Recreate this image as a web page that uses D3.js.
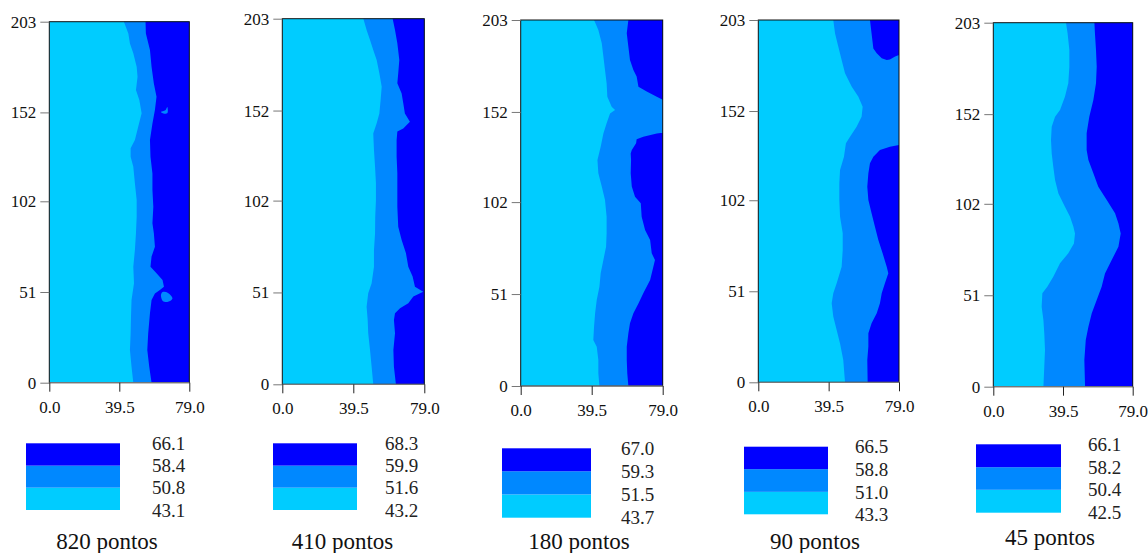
<!DOCTYPE html>
<html>
<head>
<meta charset="utf-8">
<script src="https://cdn.jsdelivr.net/npm/d3@7"></script>
<style>
  body { margin: 0; background: #fff; }
</style>
</head>
<body>
<div id="chart"></div>
<script>
// captions and legend levels (one entry per map)
var captions = ["820 pontos", "410 pontos", "180 pontos", "90 pontos", "45 pontos"];
var legendLevels = [
    [43.1, 50.8, 58.4, 66.1],
    [43.2, 51.6, 59.9, 68.3],
    [43.7, 51.5, 59.3, 67.0],
    [43.3, 51.0, 58.8, 66.5],
    [42.5, 50.4, 58.2, 66.1]
];
var yTicks = [0, 51, 102, 152, 203];
var xTicks = [0, 39.5, 79];

// contour boundaries, [x, y]
// "mid" = edge between first and second band, "dark" = edge between second and third
var p1Mid = [[42.1,203],[44.6,196.4],[45.5,190.8],[47.4,185.2],[49.3,177.7],[49.8,172.1],[48.9,164.6],[50.8,159],[52.1,151.5],[50.2,144],[48.3,136.5],[45.9,131.8],[45.9,127.1],[47.4,121.5],[48.3,112.1],[49.3,102.7],[49.3,93.3],[48.9,84],[48.3,74.6],[47.4,65.2],[47.8,55.9],[46.4,46.5],[46.1,37.1],[45.9,27.7],[45.5,18.4],[46.4,9],[47.4,0]];
var p1Dark = [[54.3,203],[54.5,196.4],[56.8,187.1],[57.7,177.7],[59,168.3],[60.5,160.8],[59.6,153.3],[58.2,145.8],[56.8,136.5],[57.1,127.1],[58.2,117.7],[58.2,108.3],[58.7,99],[58.2,89.6],[59,84],[59.6,76.5],[57.7,70.9],[57.1,65.2],[60.5,61.5],[63.9,57.7],[64.7,54],[62.4,52.1],[59.6,50.2],[57.7,46.5],[56.8,39],[55.8,27.7],[55.3,18.4],[56.4,9],[57.7,0]];
var p1Islands = [
    [[63,49],[64,51],[67,50.5],[69.5,47.5],[67,45.5],[64,46]],
    [[63,152.2],[65.5,153.2],[66.6,155],[66.8,152],[65,151.2]]
];

var p2Mid = [[45.1,203],[46.9,196.7],[48.8,191.2],[50.6,185.6],[52.5,180],[54,172.7],[55.3,165.2],[54.7,157.9],[54,150.4],[52.5,144.9],[50.6,139.3],[51,130.1],[51.6,120.8],[52.1,111.6],[52.1,102.3],[51.7,93.1],[51.6,83.8],[51,74.6],[51,65.3],[49.7,56.1],[47.8,50.5],[46.9,43.1],[47.5,35.7],[47.8,28.3],[48.8,19.1],[49.7,9.8],[50.6,0]];
var p2Dark = [[61.4,203],[62.7,196.7],[64,189.3],[65.1,180],[64.5,172.7],[64,167.1],[66.4,161.5],[67.3,156],[68.2,150.4],[71,145.8],[69.2,144],[67.3,142.1],[64,140.3],[63.6,135.6],[63.6,126.4],[64,117.1],[64,107.9],[64,98.6],[64.5,87.5],[66.4,80.1],[68.8,72.7],[70.1,65.3],[72.5,59.8],[73.8,54.2],[78.4,51.4],[72.9,48.7],[70.1,45],[65.5,42.2],[62.7,39.4],[62.1,35.7],[62.7,28.3],[61.8,19.1],[62.1,9.8],[63.2,0]];

var p3Mid = [[40.8,203],[43.2,197.5],[45.1,190.1],[46,182.7],[46.9,175.3],[47.8,167.9],[48.2,160.5],[50.6,154.9],[52.5,153.1],[49.7,151.2],[47.8,145.7],[46,140.1],[44.5,132.7],[42.7,125.4],[43.2,118],[45.1,110.6],[46.9,103.2],[47.8,93.9],[47.8,84.7],[47.5,77.3],[46,69.9],[44.5,62.5],[43.8,55.1],[42.3,47.7],[41.4,40.3],[40.8,32.9],[40.4,25.5],[42.3,21.8],[43.2,14.4],[43.2,7],[43.8,0]];
var p3Dark = [[59.9,203],[59,195.6],[59.9,188.2],[60.8,180.8],[62.7,175.3],[64.5,171.6],[65.5,166],[70.1,163.3],[75.7,160.5],[79,158.7],[79,140.5],[75.7,140.1],[68.2,138.3],[64.5,136.8],[64.2,134.6],[61.8,130.9],[61.2,129],[61.4,125.4],[61.2,118],[61.8,110.6],[63.6,105],[66.8,101.3],[67.3,93.9],[69.2,86.5],[72,81],[72.9,73.6],[74.7,69.9],[73.8,66.2],[72,58.8],[68.2,51.4],[65.5,45.8],[62.7,40.3],[60.8,34.8],[59.9,29.2],[59,21.8],[59,14.4],[59.3,7],[59.9,0]];

var p4Mid = [[42.1,203],[43.1,195.5],[44.9,188.1],[46.8,180.6],[48.7,173.1],[52.4,165.7],[56.2,160],[58.6,154.4],[58,148.8],[55.2,143.2],[51.5,137.6],[49.2,133.9],[48.1,126.4],[45.9,119],[45.5,111.5],[45.5,102.1],[45.9,92.8],[47.4,83.5],[47.4,74.1],[46.8,64.8],[44,55.5],[42.1,49.9],[41.2,44.3],[42.1,36.8],[44,29.3],[45.9,21.8],[47.7,12.5],[48.7,0]];
var p4DarkTop = [[62.7,203],[63.6,195.5],[64.6,187.1],[66.5,184.3],[69.3,181.5],[72.1,180.6],[73.9,180.9],[76.8,182.5],[79,183.4]];
var p4DarkLow = [[79,133],[73.9,132],[68.3,130.2],[64.6,126.4],[62.7,122.7],[61.8,117.1],[61.2,109.6],[61.8,102.1],[63.6,94.7],[65.5,87.2],[67.4,79.7],[69.8,72.3],[72.1,64.8],[73,61.1],[71.1,55.5],[69.3,49.9],[68.3,44.3],[66.5,38.7],[63.6,33.1],[61.8,27.5],[61.8,20],[61.2,12.5],[61.4,0]];

var p5Mid = [[41.2,203],[42.1,197.1],[43.1,187.8],[43.1,178.5],[42.5,169.2],[40.6,161.7],[37.8,154.3],[35,150.6],[33.1,145],[32.7,137.6],[33.1,130.1],[34,122.7],[35,115.3],[36.9,107.8],[40.6,100.4],[43.5,94.8],[45.4,89.2],[46.3,85.5],[45.7,79.9],[42.5,74.4],[37.8,68.8],[34,61.3],[30.6,55.8],[27.8,52.1],[27.4,44.6],[28.4,37.2],[28.9,29.7],[29.3,20.4],[28.9,11.2],[28.4,0]];
var p5Dark = [[57.3,203],[57.6,197.1],[58.2,187.8],[58.6,178.5],[58.2,169.2],[56.7,159.9],[54.4,150.6],[52.9,141.3],[52.9,132],[53.9,126.4],[56.7,119],[59.5,111.5],[64.3,104.1],[69,96.7],[70.9,91.1],[72.2,85.5],[70.9,78.1],[67.1,70.6],[63.3,63.2],[61.4,55.8],[58.6,48.3],[55.8,40.9],[53.9,33.5],[52.4,26],[51.6,14.9],[52,0]];

var maps = [
    {mid: [p1Mid], dark: [p1Dark], islands: p1Islands},
    {mid: [p2Mid], dark: [p2Dark], islands: []},
    {mid: [p3Mid], dark: [p3Dark], islands: []},
    {mid: [p4Mid], dark: [p4DarkTop, p4DarkLow], islands: []},
    {mid: [p5Mid], dark: [p5Dark], islands: []}
];

// page layout of each panel (pixels)
var frames = [
    {x0: 49.3,  x1: 189.3,  y0: 21.7, y1: 382.7, lx0: 26,  lx1: 120,  ly0: 443.3, ly1: 510,   tx: 152,  cx: 107,   cy: 549},
    {x0: 282.3, x1: 424.3,  y0: 18.7, y1: 384.3, lx0: 273, lx1: 357,  ly0: 443.3, ly1: 510,   tx: 385,  cx: 342.5, cy: 549},
    {x0: 520.7, x1: 662.7,  y0: 20,   y1: 386,   lx0: 502, lx1: 591,  ly0: 448.3, ly1: 517.7, tx: 621,  cx: 579,   cy: 549},
    {x0: 758.3, x1: 899,    y0: 20,   y1: 382.3, lx0: 744, lx1: 828,  ly0: 446.7, ly1: 514.3, tx: 855,  cx: 815,   cy: 549},
    {x0: 993.3, x1: 1132.7, y0: 22.7, y1: 386.7, lx0: 976, lx1: 1061, ly0: 444.3, ly1: 512.7, tx: 1088, cx: 1050,  cy: 545}
];

var bandColors = ["#00ccff", "#0088ff", "#0000ff"];
var serif = "Liberation Serif";

var svg = d3.select("#chart")
    .append("svg")
    .attr("width", 1148)
    .attr("height", 553);

// closes an edge polyline along the right side of the map
function closeRight(pts) {
    var last = pts[pts.length - 1], first = pts[0];
    return pts.concat([[79, last[1]], [79, first[1]]]);
}

maps.forEach(function(m, i) {
    var f = frames[i];
    var x = d3.scaleLinear().domain([0, 79]).range([f.x0, f.x1]);
    var y = d3.scaleLinear().domain([0, 203]).range([f.y1, f.y0]);

    var line = d3.line()
        .x(function(d) { return x(d[0]); })
        .y(function(d) { return y(d[1]); });
    var blob = d3.line()
        .x(function(d) { return x(d[0]); })
        .y(function(d) { return y(d[1]); })
        .curve(d3.curveCardinalClosed);

    var g = svg.append("g").attr("class", "map");

    // first band fills the whole map
    g.append("rect")
        .attr("x", x(0))
        .attr("y", y(203))
        .attr("width", x(79) - x(0))
        .attr("height", y(0) - y(203))
        .attr("fill", bandColors[0]);

    m.mid.forEach(function(pts) {
        g.append("path")
            .attr("d", line(closeRight(pts)) + "Z")
            .attr("fill", bandColors[1]);
    });
    m.dark.forEach(function(pts) {
        g.append("path")
            .attr("d", line(closeRight(pts)) + "Z")
            .attr("fill", bandColors[2]);
    });
    m.islands.forEach(function(pts) {
        g.append("path")
            .attr("d", blob(pts))
            .attr("fill", bandColors[1]);
    });

    // frame
    g.append("rect")
        .attr("x", x(0))
        .attr("y", y(203))
        .attr("width", x(79) - x(0))
        .attr("height", y(0) - y(203))
        .attr("fill", "none")
        .attr("stroke", "#111")
        .attr("stroke-width", 1);
    g.append("line")
        .attr("x1", x(0)).attr("x2", x(79))
        .attr("y1", y(0)).attr("y2", y(0))
        .attr("stroke", "#888");

    // axes
    var yAxis = g.append("g")
        .attr("transform", "translate(" + x(0) + ",0)")
        .call(d3.axisLeft(y).tickValues(yTicks).tickSize(9).tickSizeOuter(0).tickPadding(4).tickFormat(d3.format("d")));
    var xAxis = g.append("g")
        .attr("transform", "translate(0," + y(0) + ")")
        .call(d3.axisBottom(x).tickValues(xTicks).tickSize(9).tickSizeOuter(0).tickPadding(9).tickFormat(d3.format(".1f")));
    [yAxis, xAxis].forEach(function(a) {
        a.select(".domain").remove();
        a.selectAll(".tick line").attr("stroke", "#777");
        a.selectAll(".tick text")
            .attr("fill", "#111")
            .style("font-family", serif)
            .style("font-size", "17px");
    });
    xAxis.selectAll(".tick line").attr("stroke", "#222");

    // legend
    var lv = legendLevels[i];
    var ly = d3.scaleLinear().domain([lv[0], lv[3]]).range([f.ly1, f.ly0]);
    var leg = svg.append("g").attr("class", "legend");
    d3.range(3).forEach(function(k) {
        leg.append("rect")
            .attr("x", f.lx0)
            .attr("y", ly(lv[k + 1]))
            .attr("width", f.lx1 - f.lx0)
            .attr("height", ly(lv[k]) - ly(lv[k + 1]))
            .attr("fill", bandColors[k]);
    });
    leg.selectAll("text.level")
        .data(lv)
        .enter()
        .append("text")
        .attr("class", "level")
        .attr("x", f.tx)
        .attr("y", function(d) { return ly(d); })
        .attr("dy", "0.35em")
        .attr("fill", "#222")
        .style("font-family", serif)
        .style("font-size", "19px")
        .text(function(d) { return d3.format(".1f")(d); });

    svg.append("text")
        .attr("x", f.cx)
        .attr("y", f.cy)
        .attr("text-anchor", "middle")
        .attr("fill", "#111")
        .style("font-family", serif)
        .style("font-size", "23px")
        .text(captions[i]);
});
</script>
</body>
</html>
